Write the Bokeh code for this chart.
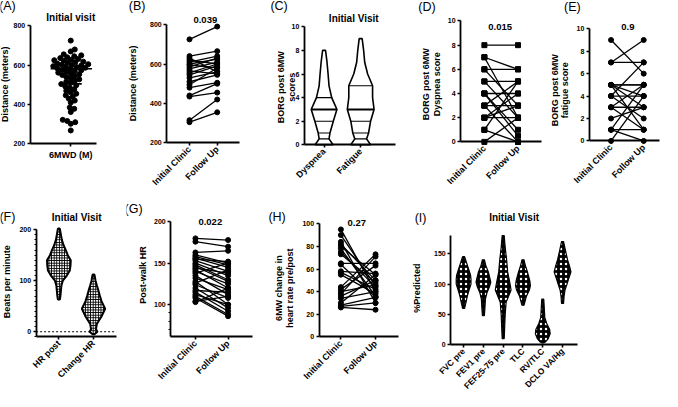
import math
import numpy as np
from bokeh.plotting import figure
from bokeh.models import Range1d, FixedTicker, Label
from bokeh.layouts import row, column
from bokeh.embed import file_html
from bokeh.resources import INLINE

# ---------------- DATA ----------------
a_category = ["6MWD (M)"]
a_distance = [725, 680, 670, 655, 650, 645, 640, 636, 632, 628, 625, 622, 618, 615, 612, 608,
              605, 602, 600, 598, 595, 592, 590, 587, 584, 580, 577, 574, 570, 566, 562, 558,
              554, 550, 545, 540, 534, 528, 522, 516, 510, 504, 498, 492, 485, 478, 470, 462,
              455, 447, 440, 430, 420, 410, 385, 378, 362, 322, 316, 310, 302, 268]
a_summary = [582, 505]

pair_categories = ["Initial Clinic", "Follow Up"]
b_initial = [725, 640, 630, 620, 610, 600, 595, 585, 575, 565, 555, 545, 530, 510, 495, 480, 440, 435, 315, 305]
b_follow = [790, 665, 560, 600, 640, 625, 580, 630, 610, 550, 600, 590, 560, 545, 580, 505, 500, 455, 420, 355]

c_categories = ["Dyspnea", "Fatigue"]
c_dyspnea_levels = [0, 0.5, 1, 2, 3, 4, 5, 6, 7, 8]
c_dyspnea_density = [0.67, 0.37, 0.44, 0.69, 0.96, 0.57, 0.37, 0.30, 0.22, 0.11]
c_dyspnea_lines = [0.5, 1, 2, 4]
c_dyspnea_median = 3
c_fatigue_levels = [0, 0.5, 1, 2, 3, 4, 5, 6, 7, 8, 9]
c_fatigue_density = [0.74, 0.44, 0.59, 0.74, 1.0, 0.89, 0.89, 0.52, 0.30, 0.22, 0.11]
c_fatigue_lines = [0.5, 1, 2, 5]
c_fatigue_median = 3

d_initial = [8, 7, 7, 6, 6, 5, 5, 4, 4, 4, 3, 3, 3, 2, 2, 2, 1, 1, 0]
d_follow = [8, 6, 2, 6, 3, 5, 2, 4, 1, 0.5, 3, 5, 0, 4, 3, 2, 5, 0, 2]

e_initial = [9, 7, 7, 5, 5, 5, 5, 4, 4, 4, 3, 3, 3, 2, 1, 1, 1, 0, 5]
e_follow = [6, 9, 7, 5, 5, 4, 1, 4, 2, 7, 3, 5, 1, 3, 1, 5, 0, 4, 3]

f_categories = ["HR post", "Change HR"]
f_hrpost_levels = [63, 70, 80, 90, 100, 110, 120, 130, 140, 150, 160, 170, 180, 190, 202]
f_hrpost_density = [0.08, 0.13, 0.17, 0.21, 0.33, 0.67, 0.92, 0.98, 1.0, 0.75, 0.58, 0.39, 0.25, 0.17, 0.08]
f_change_levels = [-5, 0, 5, 15, 30, 45, 60, 70, 80, 90, 100, 112]
f_change_density = [0.08, 0.33, 0.21, 0.28, 0.67, 0.98, 0.67, 0.54, 0.42, 0.29, 0.17, 0.08]
f_reference = 0

g_initial = [180, 176, 163, 160, 158, 156, 155, 153, 150, 148, 146, 144, 142, 140, 138, 135, 132, 128,
             126, 124, 120, 117, 115, 112, 110, 108, 104, 103]
g_follow = [178, 170, 165, 150, 148, 145, 152, 140, 135, 130, 128, 138, 120, 125, 150, 112, 118, 100,
            142, 108, 96, 115, 92, 100, 88, 86, 110, 120]

h_initial = [95, 90, 84, 82, 80, 78, 75, 73, 65, 64, 58, 57, 55, 44, 42, 40, 38, 36, 34, 30, 28, 27, 26]
h_follow = [40, 45, 30, 50, 55, 36, 44, 48, 65, 35, 56, 42, 38, 73, 63, 46, 71, 50, 40, 55, 35, 30, 24]

i_categories = ["FVC pre", "FEV1 pre", "FEF25-75 pre", "TLC", "RV/TLC", "DCLO VA/Hg"]
i_levels = [
    [60, 70, 80, 90, 100, 108, 115, 125, 135, 145],
    [48, 60, 75, 85, 95, 103, 110, 120, 130, 140],
    [10, 30, 50, 70, 80, 90, 100, 120, 140, 160, 180],
    [65, 80, 90, 97, 105, 120, 130, 140],
    [3, 5, 10, 18, 25, 35, 45, 60, 75],
    [68, 80, 90, 100, 110, 120, 130, 140, 155, 170],
]
i_density = [
    [0.12, 0.29, 0.44, 0.65, 0.88, 0.88, 0.82, 0.59, 0.35, 0.12],
    [0.12, 0.18, 0.24, 0.41, 0.71, 0.88, 0.76, 0.59, 0.29, 0.12],
    [0.12, 0.18, 0.24, 0.35, 0.65, 0.94, 0.82, 0.53, 0.41, 0.24, 0.12],
    [0.12, 0.41, 0.76, 0.88, 0.82, 0.53, 0.29, 0.12],
    [0.12, 0.35, 0.65, 0.88, 0.82, 0.47, 0.24, 0.18, 0.12],
    [0.12, 0.18, 0.29, 0.53, 0.76, 1.0, 0.82, 0.59, 0.35, 0.12],
]

# ---------------- LAYOUT / STYLE ----------------
FONT = "Liberation Sans"
ROWS = {0: (0, 196), 1: (196, 195)}
XS = 662.0 / 669.0   # horizontal squeeze of the reference geometry
YS = 0.975           # vertical squeeze of the reference geometry


def SX(r):
    return (r - 3.0) * XS


def RX(lx):
    return lx / XS + 3.0


def SY(r):
    return (r - 2.0) * YS


def panel(box, frame, c0, K, yr, rw, cats, yticks, minor=None, rotate=True):
    """box: reference x extent of the figure; frame: reference (left, right, top, bottom) of the axes."""
    ry0, rh = ROWS[rw]
    x0 = round(SX(box[0]))
    x1 = round(SX(box[1]))
    W = x1 - x0
    xs = (RX(x0) - c0) / K
    xe = (RX(x1) - c0) / K
    ymin, ymax = yr
    ly_t, ly_b = SY(frame[2]), SY(frame[3])
    scale = (ymax - ymin) / (ly_b - ly_t)
    ys = ymin + (ly_b - (ry0 + rh)) * scale
    ye = ymin + (ly_b - ry0) * scale
    p = figure(width=W, height=rh, x_range=Range1d(xs, xe), y_range=Range1d(ys, ye), title=None,
               output_backend="svg", toolbar_location=None,
               min_border_left=0, min_border_right=0, min_border_top=0, min_border_bottom=0)
    p.outline_line_color = None
    p.xgrid.grid_line_color = None
    p.ygrid.grid_line_color = None
    ax_left = (frame[0] - c0) / K
    ax_right = (frame[1] - c0) / K
    xa = p.xaxis[0]
    ya = p.yaxis[0]
    xa.fixed_location = ymin
    xa.bounds = (ax_left, ax_right)
    ya.fixed_location = ax_left
    ya.bounds = (ymin, ymax)
    for ax in (xa, ya):
        ax.axis_line_width = 1.8
        ax.axis_line_color = "black"
        ax.major_tick_line_width = 1.6
        ax.major_tick_line_color = "black"
        ax.major_tick_out = 3
        ax.major_tick_in = 0
        ax.major_label_text_font = FONT
        ax.major_label_text_font_style = "bold"
        ax.major_label_text_color = "black"
        ax.major_label_standoff = 2
    xa.ticker = FixedTicker(ticks=list(range(len(cats))))
    xa.major_label_overrides = {i: c for i, c in enumerate(cats)}
    if rotate:
        xa.major_label_orientation = math.pi / 4
    xa.major_label_text_font_size = "9px"
    xa.minor_tick_line_color = None
    ya.major_label_text_font_size = "7px"
    if minor:
        ya.ticker = FixedTicker(ticks=yticks, minor_ticks=minor)
        ya.minor_tick_out = 2
        ya.minor_tick_in = 0
        ya.minor_tick_line_width = 1.2
        ya.minor_tick_line_color = "black"
    else:
        ya.ticker = FixedTicker(ticks=yticks)
        ya.minor_tick_line_color = None
    geo = dict(x0=x0, ybot=ry0 + rh, K=K, ax_left=ax_left, ax_right=ax_right)
    return p, geo


def text(p, geo, rx, ry, s, size, bold=True, angle=0.0):
    p.add_layout(Label(x=SX(rx) - geo["x0"], y=geo["ybot"] - SY(ry), x_units="screen", y_units="screen",
                       text=s, text_font=FONT, text_font_size=f"{size}px",
                       text_font_style="bold" if bold else "normal", text_color="black",
                       text_align="center", text_baseline="middle", angle=angle))


def violin_xy(center, levels, dens, maxhw, K):
    w = [d * maxhw / K for d in dens]
    xs = [center + v for v in w] + [center - v for v in w[::-1]]
    ys = list(levels) + list(levels[::-1])
    return xs, ys


def paired(p, a, b, marker="circle"):
    p.segment(x0=[0] * len(a), y0=a, x1=[1] * len(b), y1=b, line_color="black", line_width=1.3)
    p.scatter([0] * len(a), a, marker=marker, size=5, color="black")
    p.scatter([1] * len(b), b, marker=marker, size=5, color="black")


def beeswarm(values, px_per_val, diam):
    order = sorted(range(len(values)), key=lambda i: values[i])
    placed = []
    offs = [0.0] * len(values)
    steps = [0.0]
    for s in np.arange(0.5, 40, 0.5):
        steps += [s, -s]
    for i in order:
        y = values[i] * px_per_val
        xx = 0.0
        for x in steps:
            if all((x - px) ** 2 + (y - py) ** 2 >= diam ** 2 for px, py in placed):
                xx = x
                break
        placed.append((xx, y))
        offs[i] = xx
    return offs


ROT = math.pi / 2

# ---- A ----
pA, gA = panel((3, 131), (33, 100, 28, 149), 74, 37, (200, 800), 0, [""], [200, 400, 600, 800], rotate=False)
pxv = (SY(149) - SY(28)) / 600.0
offs = beeswarm(a_distance, pxv, 4.4)
pA.scatter([o / (37 * XS) for o in offs], a_distance, size=5, color="black")
pA.segment(x0=[-0.55, -0.27], y0=a_summary, x1=[0.58, 0.3], y1=a_summary, line_color="black", line_width=1.6)
text(pA, gA, 10, 8, "(A)", 12.5, bold=False)
text(pA, gA, 74, 19, "Initial visit", 10)
text(pA, gA, 7.5, 88, "Distance (meters)", 9, angle=ROT)
text(pA, gA, 74, 160, a_category[0], 9)

# ---- B ----
pB, gB = panel((131, 265), (171, 245, 26.7, 148), 194, 28, (200, 800), 0, pair_categories, [200, 400, 600, 800])
paired(pB, b_initial, b_follow)
text(pB, gB, 141, 8, "(B)", 12.5, bold=False)
text(pB, gB, 210, 22.5, "0.039", 9.5)
text(pB, gB, 137, 87, "Distance (meters)", 9, angle=ROT)

# ---- C ----
pC, gC = panel((265, 415), (310, 402, 29, 150), 330, 37, (0, 10), 0, c_categories, [0, 2, 4, 6, 8, 10])
for ci, (lv, dn, lines, med) in enumerate([(c_dyspnea_levels, c_dyspnea_density, c_dyspnea_lines, c_dyspnea_median),
                                          (c_fatigue_levels, c_fatigue_density, c_fatigue_lines, c_fatigue_median)]):
    xs, ys = violin_xy(ci, lv, dn, 13.5, 37)
    pC.patch(xs, ys, fill_color="white", line_color="black", line_width=1.6)
    for L in lines:
        hw = float(np.interp(L, lv, dn)) * 13.5 / 37
        pC.segment(x0=[ci - hw], y0=[L], x1=[ci + hw], y1=[L], line_color="black", line_width=1.1)
    hw = float(np.interp(med, lv, dn)) * 13.5 / 37
    pC.segment(x0=[ci - hw], y0=[med], x1=[ci + hw], y1=[med], line_color="black", line_width=2)
text(pC, gC, 284.5, 7.5, "(C)", 12.5, bold=False)
text(pC, gC, 360, 20.5, "Initial Visit", 10)
text(pC, gC, 286, 91, "BORG post 6MW", 9, angle=ROT)
text(pC, gC, 298, 91, "scores", 9, angle=ROT)

# ---- D ----
pD, gD = panel((415, 553), (468, 550, 23, 147), 492, 34, (0, 10), 0, pair_categories, [0, 2, 4, 6, 8, 10])
paired(pD, d_initial, d_follow, marker="square")
text(pD, gD, 434, 9, "(D)", 12.5, bold=False)
text(pD, gD, 508, 29.5, "0.015", 9.5)
text(pD, gD, 433, 88, "BORG post 6MW", 9, angle=ROT)
text(pD, gD, 444, 88, "Dyspnea score", 9, angle=ROT)

# ---- E ----
pE, gE = panel((553, 672), (598, 669, 31, 146), 620, 33, (0, 10), 0, pair_categories, [0, 2, 4, 6, 8, 10])
paired(pE, e_initial, e_follow)
text(pE, gE, 581, 9, "(E)", 12.5, bold=False)
text(pE, gE, 637, 29, "0.9", 9.5)
text(pE, gE, 563.5, 94, "BORG post 6MW", 9, angle=ROT)
text(pE, gE, 573.5, 94, "fatigue score", 9, angle=ROT)

# ---- F ----
pF, gF = panel((3, 130), (39, 120, 237, 347), 62, 35, (-10, 200), 1, f_categories, [0, 100, 200],
               minor=list(range(-10, 201, 10)))
pF.segment(x0=[gF["ax_left"]], y0=[f_reference], x1=[gF["ax_right"]], y1=[f_reference],
           line_color="black", line_width=1.2, line_dash="2 2")
for ci, (lv, dn) in enumerate([(f_hrpost_levels, f_hrpost_density), (f_change_levels, f_change_density)]):
    xs, ys = violin_xy(ci, lv, dn, 12, 35)
    pF.patch(xs, ys, fill_color="white", line_color="black", line_width=2,
             hatch_pattern="cross", hatch_color="black", hatch_scale=2.6, hatch_weight=1.2)
text(pF, gF, 10, 224.5, "(F)", 12.5, bold=False)
text(pF, gF, 80, 224.5, "Initial Visit", 10)
text(pF, gF, 10, 290.5, "Beats per minute", 9, angle=ROT)

# ---- G ----
pG, gG = panel((130, 270), (175, 258, 229, 347), 200, 33, (61, 200), 1, pair_categories, [100, 150, 200],
               minor=[70, 80, 90])
paired(pG, g_initial, g_follow)
text(pG, gG, 137.5, 215.5, "(G)", 12.5, bold=False)
text(pG, gG, 215, 229.5, "0.022", 9.5)
text(pG, gG, 147, 283.5, "Post-walk HR", 9, angle=ROT)

# ---- H ----
pH, gH = panel((270, 410), (325, 405, 231, 347), 347, 35, (0, 100), 1, pair_categories, [0, 20, 40, 60, 80, 100])
paired(pH, h_initial, h_follow)
text(pH, gH, 282.5, 224, "(H)", 12.5, bold=False)
text(pH, gH, 363, 230, "0.27", 9.5)
text(pH, gH, 284.5, 297, "6MW change in", 9, angle=ROT)
text(pH, gH, 296, 297, "heart rate pre/post", 9, angle=ROT)

# ---- I ----
pI, gI = panel((410, 672), (458, 586, 243, 355), 471, 20, (0, 180), 1, i_categories, [0, 50, 100, 150])
pI.xaxis.major_label_text_font_size = "8.5px"
for ci, (lv, dn) in enumerate(zip(i_levels, i_density)):
    xs, ys = violin_xy(ci, lv, dn, 8.5, 20)
    pI.patch(xs, ys, fill_color="black", line_color="black", line_width=1.2,
             hatch_pattern="dot", hatch_color="white", hatch_scale=5, hatch_weight=0.5)
text(pI, gI, 427.5, 225, "(I)", 12.5, bold=False)
text(pI, gI, 522, 224.5, "Initial Visit", 10)
text(pI, gI, 424, 297, "%Predicted", 9, angle=ROT)

layout = column(row(pA, pB, pC, pD, pE), row(pF, pG, pH, pI))
open("out.html", "w").write(file_html(layout, INLINE))
